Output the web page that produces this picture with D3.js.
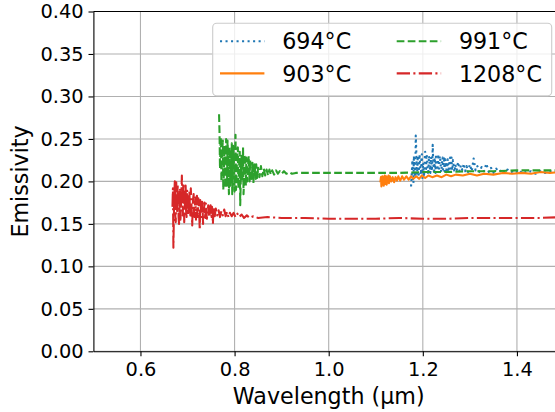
<!DOCTYPE html>
<html>
<head>
<meta charset="utf-8">
<script src="https://cdn.jsdelivr.net/npm/d3@7"></script>
<style>
  body { margin: 0; background: #fff; }
  svg { display: block; font-family: "DejaVu Sans", sans-serif; }
</style>
</head>
<body>
<script>
// chart data: [wavelength (µm), emissivity]
var labels = ["694°C", "903°C", "991°C", "1208°C"];
var xTicks = [0.6, 0.8, 1.0, 1.2, 1.4];
var yTicks = [0, 0.05, 0.10, 0.15, 0.20, 0.25, 0.30, 0.35, 0.40];

var data694 = [
  [1.175,0.194],[1.176,0.205],[1.177,0.215],[1.178,0.225],[1.179,0.200],[1.180,0.198],[1.181,0.230],
  [1.182,0.218],[1.183,0.212],[1.184,0.205],[1.185,0.254],[1.186,0.238],[1.187,0.215],[1.188,0.208],
  [1.189,0.225],[1.190,0.230],[1.191,0.205],[1.192,0.216],[1.193,0.232],[1.194,0.222],[1.195,0.213],
  [1.196,0.208],[1.197,0.228],[1.198,0.232],[1.199,0.202],[1.200,0.215],[1.201,0.222],[1.202,0.205],
  [1.203,0.210],[1.204,0.226],[1.205,0.235],[1.206,0.212],[1.207,0.215],[1.208,0.232],[1.209,0.226],
  [1.210,0.218],[1.211,0.208],[1.212,0.214],[1.213,0.230],[1.214,0.226],[1.215,0.217],[1.216,0.210],
  [1.217,0.224],[1.218,0.229],[1.219,0.212],[1.220,0.218],[1.221,0.243],[1.222,0.225],[1.223,0.214],
  [1.224,0.209],[1.225,0.228],[1.226,0.219],[1.227,0.210],[1.228,0.232],[1.229,0.222],[1.230,0.215],
  [1.231,0.213],[1.232,0.220],[1.233,0.232],[1.234,0.212],[1.235,0.216],[1.236,0.230],[1.237,0.226],
  [1.238,0.219],[1.239,0.211],[1.240,0.215],[1.241,0.224],[1.242,0.228],[1.243,0.214],[1.244,0.218],
  [1.245,0.229],[1.246,0.212],[1.247,0.213],[1.248,0.226],[1.249,0.221],[1.250,0.215],[1.251,0.210],
  [1.252,0.219],[1.253,0.226],[1.254,0.211],[1.255,0.215],[1.256,0.220],[1.257,0.224],[1.258,0.228],
  [1.259,0.212],[1.260,0.216],[1.261,0.228],[1.262,0.213],[1.263,0.215],[1.264,0.225],[1.265,0.222],
  [1.266,0.216],[1.267,0.211],[1.268,0.214],[1.269,0.220],[1.272,0.213],[1.275,0.223],[1.278,0.212],
  [1.281,0.219],[1.284,0.213],[1.287,0.221],[1.290,0.212],[1.293,0.218],[1.296,0.211],[1.300,0.220],
  [1.304,0.212],[1.308,0.227],[1.312,0.213],[1.316,0.218],[1.320,0.211],[1.325,0.217],[1.330,0.212],
  [1.335,0.221],[1.340,0.211],[1.345,0.216],[1.350,0.210],[1.356,0.215],[1.362,0.211],[1.368,0.214],
  [1.374,0.210],[1.380,0.214],[1.388,0.211],[1.396,0.213],[1.404,0.209],[1.412,0.213],[1.420,0.210],
  [1.430,0.212],[1.440,0.209],[1.450,0.212],[1.460,0.210],[1.470,0.212],[1.480,0.211],[1.495,0.211]
];

var data903 = [
  [1.110,0.200],[1.111,0.205],[1.112,0.194],[1.113,0.197],[1.114,0.206],[1.115,0.203],[1.116,0.198],
  [1.117,0.195],[1.118,0.204],[1.119,0.207],[1.120,0.197],[1.121,0.200],[1.122,0.206],[1.123,0.196],
  [1.124,0.199],[1.125,0.203],[1.126,0.205],[1.127,0.207],[1.128,0.198],[1.129,0.200],[1.130,0.206],
  [1.133,0.200],[1.136,0.205],[1.139,0.199],[1.142,0.205],[1.145,0.201],[1.148,0.206],[1.152,0.201],
  [1.156,0.206],[1.160,0.202],[1.165,0.206],[1.170,0.202],[1.175,0.206],[1.180,0.203],[1.186,0.206],
  [1.192,0.203],[1.198,0.207],[1.205,0.204],[1.212,0.207],[1.220,0.205],[1.230,0.207],[1.240,0.205],
  [1.250,0.208],[1.260,0.206],[1.270,0.208],[1.285,0.207],[1.300,0.209],[1.315,0.207],[1.330,0.209],
  [1.350,0.208],[1.370,0.210],[1.390,0.209],[1.410,0.210],[1.430,0.209],[1.450,0.211],[1.470,0.210],
  [1.495,0.211]
];

var data991 = [
  [0.767,0.279],[0.768,0.258],[0.769,0.215],[0.770,0.245],[0.771,0.252],[0.772,0.200],[0.773,0.222],
  [0.774,0.238],[0.775,0.248],[0.776,0.190],[0.777,0.205],[0.778,0.230],[0.779,0.242],[0.780,0.205],
  [0.781,0.192],[0.782,0.250],[0.783,0.220],[0.784,0.195],[0.785,0.248],[0.786,0.235],[0.787,0.210],
  [0.788,0.185],[0.789,0.240],[0.790,0.228],[0.791,0.195],[0.792,0.210],[0.793,0.220],[0.794,0.245],
  [0.795,0.185],[0.796,0.200],[0.797,0.242],[0.798,0.232],[0.799,0.215],[0.800,0.188],[0.801,0.228],
  [0.802,0.255],[0.803,0.190],[0.804,0.205],[0.805,0.222],[0.806,0.238],[0.807,0.240],[0.808,0.192],
  [0.809,0.205],[0.810,0.226],[0.811,0.235],[0.812,0.172],[0.813,0.198],[0.814,0.222],[0.815,0.230],
  [0.816,0.200],[0.817,0.212],[0.818,0.240],[0.819,0.185],[0.820,0.198],[0.821,0.232],[0.822,0.225],
  [0.823,0.210],[0.824,0.195],[0.825,0.228],[0.826,0.218],[0.827,0.200],[0.828,0.205],[0.829,0.220],
  [0.830,0.230],[0.831,0.212],[0.832,0.200],[0.833,0.225],[0.834,0.220],[0.835,0.210],[0.836,0.203],
  [0.837,0.206],[0.838,0.222],[0.839,0.218],[0.840,0.198],[0.841,0.210],[0.842,0.218],[0.843,0.220],
  [0.844,0.206],[0.845,0.203],[0.846,0.220],[0.847,0.214],[0.848,0.204],[0.849,0.209],[0.850,0.216],
  [0.853,0.205],[0.856,0.218],[0.859,0.206],[0.862,0.215],[0.865,0.207],[0.868,0.214],[0.871,0.207],
  [0.874,0.214],[0.877,0.208],[0.880,0.213],[0.884,0.208],[0.888,0.213],[0.892,0.209],[0.896,0.212],
  [0.900,0.209],[0.905,0.212],[0.910,0.209],[0.916,0.211],[0.922,0.209],[0.930,0.210],[0.950,0.210],
  [1.000,0.210],[1.050,0.210],[1.100,0.210],[1.150,0.210],[1.200,0.211],[1.250,0.211],[1.300,0.212],
  [1.350,0.212],[1.400,0.213],[1.450,0.213],[1.495,0.213]
];

var data1208 = [
  [0.668,0.170],[0.669,0.192],[0.670,0.122],[0.671,0.158],[0.672,0.185],[0.673,0.200],[0.674,0.160],
  [0.675,0.152],[0.676,0.199],[0.677,0.182],[0.678,0.165],[0.679,0.196],[0.680,0.180],[0.681,0.158],
  [0.682,0.150],[0.683,0.172],[0.684,0.190],[0.685,0.155],[0.686,0.168],[0.687,0.185],[0.688,0.207],
  [0.689,0.172],[0.690,0.160],[0.691,0.198],[0.692,0.185],[0.693,0.152],[0.694,0.170],[0.695,0.176],
  [0.696,0.195],[0.697,0.165],[0.698,0.158],[0.699,0.190],[0.700,0.182],[0.701,0.160],[0.702,0.165],
  [0.703,0.178],[0.704,0.188],[0.705,0.170],[0.706,0.160],[0.707,0.192],[0.708,0.178],[0.709,0.165],
  [0.710,0.148],[0.711,0.172],[0.712,0.180],[0.713,0.185],[0.714,0.163],[0.715,0.158],[0.716,0.176],
  [0.717,0.181],[0.718,0.155],[0.719,0.168],[0.720,0.183],[0.721,0.158],[0.722,0.162],[0.723,0.180],
  [0.724,0.174],[0.725,0.160],[0.726,0.143],[0.727,0.178],[0.728,0.172],[0.729,0.165],[0.730,0.158],
  [0.731,0.176],[0.732,0.170],[0.733,0.150],[0.734,0.160],[0.735,0.168],[0.736,0.175],[0.737,0.162],
  [0.738,0.157],[0.739,0.174],[0.740,0.169],[0.741,0.156],[0.742,0.160],[0.743,0.165],[0.744,0.172],
  [0.745,0.168],[0.746,0.158],[0.747,0.160],[0.748,0.167],[0.749,0.172],[0.750,0.161],[0.751,0.158],
  [0.752,0.170],[0.753,0.164],[0.754,0.150],[0.755,0.169],[0.756,0.166],[0.757,0.161],[0.758,0.159],
  [0.759,0.165],[0.760,0.168],[0.763,0.160],[0.766,0.166],[0.769,0.158],[0.772,0.165],[0.775,0.160],
  [0.778,0.167],[0.781,0.159],[0.784,0.164],[0.787,0.158],[0.790,0.163],[0.794,0.159],[0.798,0.163],
  [0.802,0.158],[0.806,0.162],[0.810,0.158],[0.815,0.161],[0.820,0.157],[0.826,0.160],[0.832,0.157],
  [0.840,0.159],[0.850,0.157],[0.870,0.158],[0.900,0.157],[0.950,0.157],[1.000,0.156],[1.050,0.156],
  [1.100,0.156],[1.150,0.157],[1.200,0.156],[1.250,0.156],[1.300,0.157],[1.350,0.157],[1.400,0.157],
  [1.450,0.157],[1.495,0.158]
];

// Define SVG area dimensions
var svgWidth = 555;
var svgHeight = 412;

// plot area (right edge runs past the window, as in the reference)
var plotLeft = 93.4;
var plotRight = 564;
var plotTop = 11.5;
var plotBottom = 351.3;

var svg = d3.select("body")
  .append("svg")
  .attr("width", svgWidth)
  .attr("height", svgHeight);

var xScale = d3.scaleLinear()
  .domain([0.5, 1.5])
  .range([plotLeft, plotRight]);

var yScale = d3.scaleLinear()
  .domain([0, 0.4])
  .range([plotBottom, plotTop]);

var lw = 2.08;
var styles = [
  { color: "#1f77b4", dash: [1 * lw, 1.65 * lw], cap: "butt" },
  { color: "#ff7f0e", dash: null, cap: "square" },
  { color: "#2ca02c", dash: [3.7 * lw, 1.6 * lw], cap: "butt" },
  { color: "#d62728", dash: [6.4 * lw, 1.6 * lw, 1 * lw, 1.6 * lw], cap: "butt" }
];
var allData = [data694, data903, data991, data1208];

svg.append("defs").append("clipPath")
  .attr("id", "plotClip")
  .append("rect")
  .attr("x", plotLeft)
  .attr("y", plotTop)
  .attr("width", plotRight - plotLeft)
  .attr("height", plotBottom - plotTop);

// grid
var grid = svg.append("g").attr("stroke", "#b0b0b0").attr("stroke-width", 1.1);
grid.selectAll(".gx")
  .data(xTicks)
  .enter()
  .append("line")
  .attr("x1", d => xScale(d)).attr("x2", d => xScale(d))
  .attr("y1", plotTop).attr("y2", plotBottom);
grid.selectAll(".gy")
  .data(yTicks)
  .enter()
  .append("line")
  .attr("x1", plotLeft).attr("x2", plotRight)
  .attr("y1", d => yScale(d)).attr("y2", d => yScale(d));

// lines
var line = d3.line()
  .x(d => xScale(d[0]))
  .y(d => yScale(d[1]));

var lineGroup = svg.append("g").attr("clip-path", "url(#plotClip)");
allData.forEach(function(series, i) {
  lineGroup.append("path")
    .datum(series)
    .attr("d", line)
    .attr("fill", "none")
    .attr("stroke", styles[i].color)
    .attr("stroke-width", lw)
    .attr("stroke-linejoin", "round")
    .attr("stroke-linecap", styles[i].cap)
    .attr("stroke-dasharray", styles[i].dash ? styles[i].dash.join(",") : null);
});

// axes
var bottomAxis = d3.axisBottom(xScale)
  .tickValues(xTicks)
  .tickFormat(d3.format(".1f"))
  .tickSize(4.9)
  .tickPadding(4.9)
  .tickSizeOuter(0);
var leftAxis = d3.axisLeft(yScale)
  .tickValues(yTicks)
  .tickFormat(d3.format(".2f"))
  .tickSize(4.9)
  .tickPadding(4.9)
  .tickSizeOuter(0);

var xAxisG = svg.append("g")
  .attr("transform", `translate(0, ${plotBottom})`)
  .call(bottomAxis);
var yAxisG = svg.append("g")
  .attr("transform", `translate(${plotLeft}, 0)`)
  .call(leftAxis);

[xAxisG, yAxisG].forEach(function(g) {
  g.selectAll("text")
    .attr("font-size", 19.4)
    .attr("font-family", "DejaVu Sans")
    .attr("fill", "#000");
  g.selectAll("line").attr("stroke", "#000").attr("stroke-width", 1.1);
  g.select(".domain").attr("stroke", "#000").attr("stroke-width", 1.1);
});
xAxisG.selectAll("text").attr("dy", "0.76em");

// top spine
svg.append("line")
  .attr("x1", plotLeft).attr("x2", plotRight)
  .attr("y1", plotTop).attr("y2", plotTop)
  .attr("stroke", "#000").attr("stroke-width", 1.1);

// axis labels
svg.append("text")
  .attr("x", (plotLeft + plotRight) / 2)
  .attr("y", 404)
  .attr("text-anchor", "middle")
  .attr("font-size", 22.2)
  .text("Wavelength (μm)");

svg.append("text")
  .attr("transform", `translate(28, ${(plotTop + plotBottom) / 2}) rotate(-90)`)
  .attr("text-anchor", "middle")
  .attr("font-size", 22.2)
  .text("Emissivity");

// legend (2 columns, filled column by column)
var legend = svg.append("g");
legend.append("rect")
  .attr("x", 212.7).attr("y", 23.3)
  .attr("width", 339).attr("height", 72.4)
  .attr("rx", 4).attr("ry", 4)
  .attr("fill", "#fff").attr("fill-opacity", 0.8)
  .attr("stroke", "#cccccc").attr("stroke-width", 1.1);

var colX = [220, 396.7];
var rowY = [41.2, 73.4];
labels.forEach(function(name, i) {
  var cx = colX[Math.floor(i / 2)];
  var cy = rowY[i % 2];
  legend.append("line")
    .attr("x1", cx).attr("x2", cx + 44.4)
    .attr("y1", cy).attr("y2", cy)
    .attr("stroke", styles[i].color)
    .attr("stroke-width", lw)
    .attr("stroke-linecap", styles[i].cap === "square" ? "butt" : styles[i].cap)
    .attr("stroke-dasharray", styles[i].dash ? styles[i].dash.join(",") : null);
  legend.append("text")
    .attr("x", cx + 44.4 + 17.8)
    .attr("y", cy + 8.1)
    .attr("font-size", 22.2)
    .text(name);
});
</script>
</body>
</html>
